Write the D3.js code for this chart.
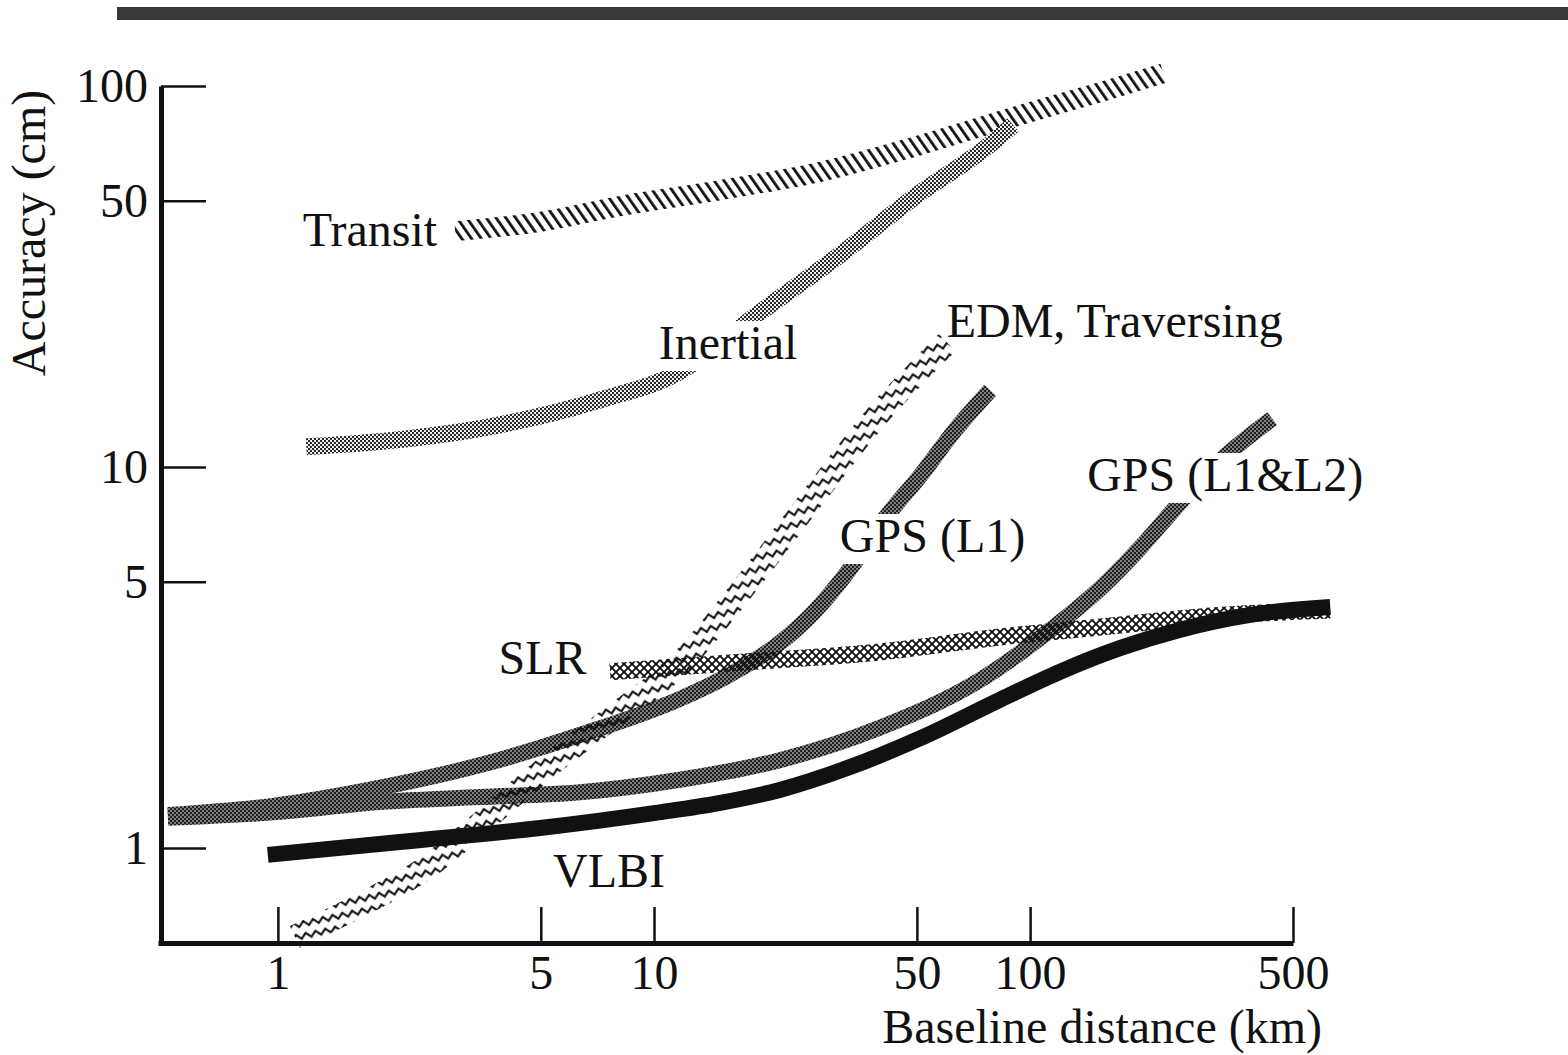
<!DOCTYPE html>
<html><head><meta charset="utf-8">
<script src="https://cdn.jsdelivr.net/npm/d3@7"></script>
<style>
html,body{margin:0;padding:0;background:#fff;}
svg{display:block;}
text{font-family:"Liberation Serif","Times New Roman",serif;fill:#111;}
</style></head><body>
<svg id="c" width="1568" height="1055"></svg>
<script>
// ---- tick values ----
const xTickValues = [1, 5, 10, 50, 100, 500];
const yTickValues = [1, 5, 10, 50, 100];

// ---- series (baseline distance km, accuracy cm) ----
const transitKm  = [2.96, 4.98, 8.12, 15.0, 27.6, 51.0, 94.0, 154, 226];
const transitCm  = [41.6, 44.0, 48.4, 53.3, 59.5, 70.0, 83.9, 96.4, 108];

const inertialKm = [1.19, 2.11, 3.89, 7.19, 11.7, 14.5, 18.0, 30.7, 51.0, 76.8, 90.1];
const inertialCm = [11.3, 11.8, 12.9, 15.0, 17.8, 20.5, 24.3, 35.6, 52.4, 69.2, 79.0];

const edmKm = [1.11, 1.76, 2.54, 3.30, 5.19, 7.78, 11.7, 17.7, 26.5, 39.9, 60.2];
const edmCm = [0.584, 0.730, 0.902, 1.115, 1.63, 2.21, 3.04, 4.96, 8.34, 13.9, 21.2];

const gpsL1Km = [0.51, 0.97, 1.87, 3.45, 6.36, 11.7, 15.9, 21.6, 26.5, 33.2, 41.2, 51.0, 63.2, 78.3];
const gpsL1Cm = [1.22, 1.29, 1.44, 1.65, 1.98, 2.46, 2.85, 3.45, 4.14, 5.40, 7.35, 9.47, 12.5, 15.9];

const gpsL12Km = [0.51, 0.97, 1.87, 3.45, 6.36, 11.7, 21.6, 39.9, 73.6, 113, 154, 196, 243, 301, 440];
const gpsL12Cm = [1.20, 1.24, 1.32, 1.36, 1.40, 1.51, 1.70, 2.07, 2.76, 3.73, 4.81, 6.13, 7.80, 9.82, 13.4];

const slrKm = [7.64, 17.7, 39.9, 83.2, 154, 283, 628];
const slrCm = [2.90, 3.08, 3.27, 3.58, 3.80, 4.04, 4.21];

const vlbiKm = [0.94, 2.11, 4.98, 10.1, 15.0, 21.6, 33.2, 51.0, 83.2, 120, 174, 251, 385, 628];
const vlbiCm = [0.959, 1.037, 1.128, 1.236, 1.313, 1.42, 1.63, 1.94, 2.45, 2.90, 3.35, 3.74, 4.09, 4.29];

// ---- labels ----
const seriesLabels = ["Transit", "Inertial", "EDM, Traversing", "GPS (L1)", "GPS (L1&L2)", "SLR", "VLBI"];
const labelKm = [1.165, 10.3, 60.0, 31.2, 141.8, 3.86, 5.39];
const labelCm = [38.0, 19.2, 22.0, 5.98, 8.65, 2.86, 0.79];
const knockout = ["Inertial", "GPS (L1)", "GPS (L1&L2)"];

const xTitle = "Baseline distance (km)";
const yTitle = "Accuracy (cm)";

// ---- setup ----
const svg = d3.select("#c");
const x = d3.scaleLog().domain([0.48, 500]).range([158, 1293]);
const y = d3.scaleLog().domain([0.563, 100]).range([943, 86]);

const defs = svg.append("defs");
// Transit diagonal hatch
const pH = defs.append("pattern").attr("id", "hatch").attr("patternUnits", "userSpaceOnUse")
  .attr("width", 8).attr("height", 8).attr("patternTransform", "rotate(-35)");
pH.append("rect").attr("x", 0).attr("width", 2.8).attr("height", 8).attr("fill", "#111");
// light halftone (Inertial)
const pL = defs.append("pattern").attr("id", "dotsLight").attr("patternUnits", "userSpaceOnUse")
  .attr("width", 4).attr("height", 4);
pL.append("rect").attr("width", 4).attr("height", 4).attr("fill", "#fff");
pL.append("circle").attr("cx", 1).attr("cy", 1).attr("r", 1.2).attr("fill", "#222");
pL.append("circle").attr("cx", 3).attr("cy", 3).attr("r", 1.2).attr("fill", "#222");
// dark halftone (GPS)
const pD = defs.append("pattern").attr("id", "dotsDark").attr("patternUnits", "userSpaceOnUse")
  .attr("width", 4).attr("height", 4);
pD.append("rect").attr("width", 4).attr("height", 4).attr("fill", "#1e1e1e");
pD.append("circle").attr("cx", 1).attr("cy", 1).attr("r", 0.8).attr("fill", "#fff");
pD.append("circle").attr("cx", 3).attr("cy", 3).attr("r", 0.8).attr("fill", "#fff");
// zigzag (EDM)
const pZ = defs.append("pattern").attr("id", "zigzag").attr("patternUnits", "userSpaceOnUse")
  .attr("width", 10).attr("height", 12).attr("patternTransform", "rotate(-12)");
pZ.append("path").attr("d", "M-1,9.8 L0,9 L5,4 L10,9 L11,9.8").attr("fill", "none")
  .attr("stroke", "#111").attr("stroke-width", 2.2);
// crosshatch (SLR)
const pX = defs.append("pattern").attr("id", "cross").attr("patternUnits", "userSpaceOnUse")
  .attr("width", 8).attr("height", 8);
pX.append("path").attr("d", "M0,0 L8,8 M8,0 L0,8").attr("fill", "none")
  .attr("stroke", "#111").attr("stroke-width", 1.9);

// top bar
svg.append("rect").attr("x", 117).attr("y", 7).attr("width", 1451).attr("height", 13).attr("fill", "#383838");

// axes
const gx = svg.append("g").attr("transform", "translate(0,943)")
  .call(d3.axisBottom(x).tickValues(xTickValues).tickFormat(d3.format("d")).tickSizeInner(-36).tickSizeOuter(0).tickPadding(12));
gx.select(".domain").attr("stroke", "#111").attr("stroke-width", 5);
gx.selectAll(".tick line").attr("stroke", "#111").attr("stroke-width", 2.5);
gx.selectAll(".tick text").attr("font-size", 48).attr("font-family", "Liberation Serif").attr("fill", "#111");

const gy = svg.append("g").attr("transform", "translate(161,0)")
  .call(d3.axisLeft(y).tickValues(yTickValues).tickFormat(d3.format("d")).tickSizeInner(-45).tickSizeOuter(0).tickPadding(13));
gy.select(".domain").attr("stroke", "#111").attr("stroke-width", 5);
gy.selectAll(".tick line").attr("stroke", "#111").attr("stroke-width", 2.5);
gy.selectAll(".tick text").attr("font-size", 48).attr("font-family", "Liberation Serif").attr("fill", "#111");

svg.append("text").attr("x", 1322).attr("y", 1043).attr("text-anchor", "end")
  .attr("font-size", 48).text(xTitle);
svg.append("text").attr("transform", "translate(45,233) rotate(-90)").attr("text-anchor", "middle")
  .attr("font-size", 48).text(yTitle);

// bands
const line = d3.line().x(d => x(d[0])).y(d => y(d[1])).curve(d3.curveMonotoneX);
const zip = (a, b) => a.map((v, i) => [v, b[i]]);
const bands = [
  {km: transitKm, cm: transitCm, stroke: "url(#hatch)", w: 20},
  {km: inertialKm, cm: inertialCm, stroke: "url(#dotsLight)", w: 17},
  {km: gpsL12Km, cm: gpsL12Cm, stroke: "url(#dotsDark)", w: 16},
  {km: gpsL1Km, cm: gpsL1Cm, stroke: "url(#dotsDark)", w: 16},
  {km: edmKm, cm: edmCm, stroke: "url(#zigzag)", w: 24},
  {km: slrKm, cm: slrCm, stroke: "url(#cross)", w: 17},
  {km: vlbiKm, cm: vlbiCm, stroke: "#111", w: 16}
];
const gb = svg.append("g");
bands.forEach(b => {
  gb.append("path").attr("d", line(zip(b.km, b.cm))).attr("fill", "none")
    .attr("stroke", b.stroke).attr("stroke-width", b.w).attr("stroke-linecap", "butt");
});

// labels
const gl = svg.append("g");
seriesLabels.forEach((t, i) => {
  const tx = gl.append("text").attr("x", x(labelKm[i])).attr("y", y(labelCm[i]))
    .attr("font-size", 48).text(t);
  if (knockout.includes(t)) {
    const bb = tx.node().getBBox();
    const by = y(labelCm[i]);
    gl.insert("rect", () => tx.node()).attr("x", bb.x - 4).attr("y", by - 38)
      .attr("width", bb.width + 8).attr("height", 50).attr("fill", "#fff");
  }
});
</script></body></html>
